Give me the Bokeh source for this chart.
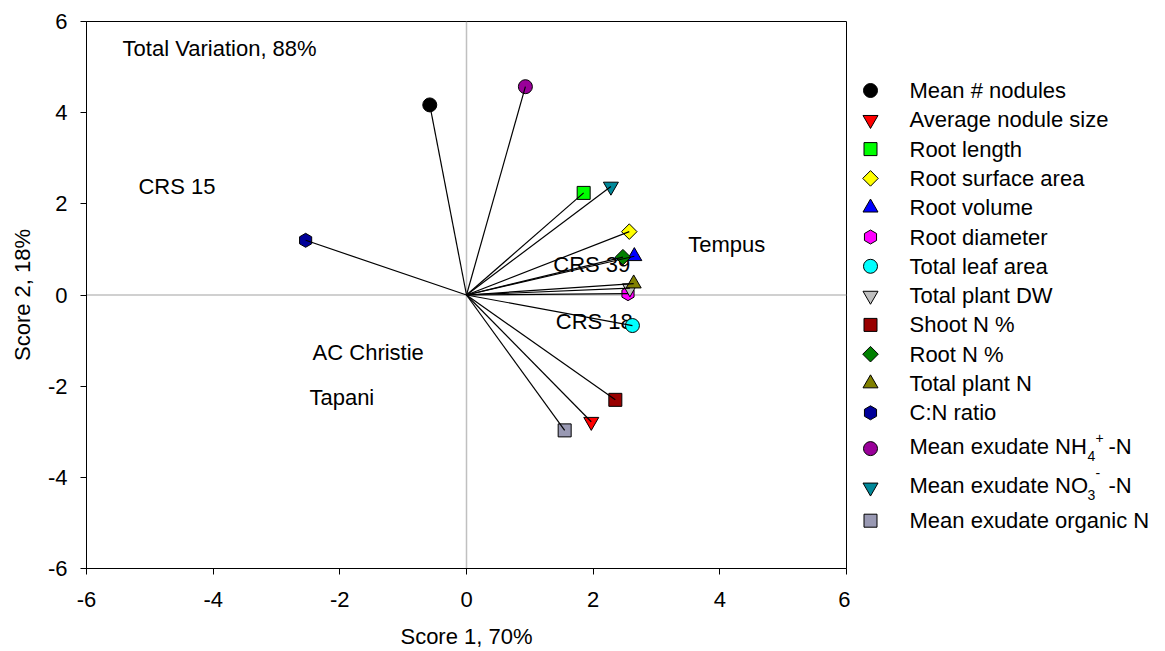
import math
from bokeh.plotting import figure
from bokeh.layouts import row
from bokeh.models import Range1d, FixedTicker, Span, ColumnDataSource
from bokeh.core.properties import value
from bokeh.embed import file_html
from bokeh.resources import INLINE

FONT = "Liberation Sans"

# ---- data ----
variables = ["Mean # nodules", "Average nodule size", "Root length", "Root surface area",
             "Root volume", "Root diameter", "Total leaf area", "Total plant DW",
             "Shoot N %", "Root N %", "Total plant N", "C:N ratio",
             "Mean exudate NH4+ -N", "Mean exudate NO3- -N", "Mean exudate organic N"]
score1 = [-0.58, 1.97, 1.85, 2.57, 2.65, 2.55, 2.62, 2.58, 2.35, 2.47, 2.64, -2.54, 0.93, 2.28, 1.55]
score2 = [4.17, -2.78, 2.24, 1.39, 0.85, 0.03, -0.67, 0.15, -2.30, 0.83, 0.25, 1.20, 4.57, 2.38, -2.97]
markers = ["circle", "inverted_triangle", "square", "square", "triangle", "hex", "circle",
           "inverted_triangle", "square", "square", "triangle", "hex", "circle",
           "inverted_triangle", "square"]
colors = ["#000000", "#ff0000", "#00ff00", "#ffff00", "#0000ff", "#ff00ff", "#00ffff",
          "#c0c0c0", "#990000", "#008000", "#808000", "#000099", "#990099",
          "#008899", "#9999b3"]
is_diamond = [False, False, False, True, False, False, False, False, False, True,
              False, False, False, False, False]

cultivars = ["Total Variation, 88%", "CRS 15", "Tempus", "CRS 39", "CRS 18", "AC Christie", "Tapani"]
cult_x = [-5.43, -5.18, 3.50, 1.37, 1.41, -2.43, -2.48]
cult_y = [5.40, 2.38, 1.10, 0.66, -0.59, -1.26, -2.25]

ticks = [-6, -4, -2, 0, 2, 4, 6]
tick_labels = ["-6", "-4", "-2", "0", "2", "4", "6"]

# marker styling derived from type
def msize(m, d):
    if d:
        return 11
    return {"circle": 14, "square": 13, "triangle": 15, "inverted_triangle": 15, "hex": 14}[m]

def mangle(m, d):
    if d:
        return math.pi / 4
    if m == "hex":
        return math.pi / 6
    return 0.0

sizes = [msize(m, d) for m, d in zip(markers, is_diamond)]
angles = [mangle(m, d) for m, d in zip(markers, is_diamond)]

src = ColumnDataSource(dict(x=score1, y=score2, marker=markers, color=colors,
                            size=sizes, angle=angles,
                            x0=[0] * len(score1), y0=[0] * len(score1)))

p = figure(width=850, height=651, x_range=Range1d(-6, 6), y_range=Range1d(-6, 6),
           output_backend="svg", toolbar_location=None,
           min_border_left=86, min_border_right=4, min_border_top=21, min_border_bottom=83)
p.xgrid.visible = False
p.ygrid.visible = False
p.outline_line_color = "black"
p.outline_line_width = 1
p.outline_line_alpha = 1
p.background_fill_color = "white"
p.border_fill_color = "white"

for ax in (p.xaxis[0], p.yaxis[0]):
    ax.ticker = FixedTicker(ticks=ticks)
    ax.major_label_overrides = {t: s for t, s in zip(ticks, tick_labels)}
    ax.major_tick_out = 6
    ax.major_tick_in = 0
    ax.minor_tick_out = 0
    ax.minor_tick_in = 0
    ax.axis_line_color = "black"
    ax.major_tick_line_color = "black"
    ax.major_label_text_font = FONT
    ax.major_label_text_font_size = "22px"
    ax.major_label_text_color = "black"
    ax.axis_label_text_font = FONT
    ax.axis_label_text_font_size = "22px"
    ax.axis_label_text_font_style = "normal"
    ax.axis_label_text_color = "black"

p.xaxis[0].axis_label = "Score 1, 70%"
p.yaxis[0].axis_label = "Score 2, 18%"
p.xaxis[0].major_label_standoff = 17
p.yaxis[0].major_label_standoff = 13
p.xaxis[0].axis_label_standoff = 14
p.yaxis[0].axis_label_standoff = 10

p.add_layout(Span(location=0, dimension="height", line_color="#c0c0c0", line_width=1.5, level="underlay"))
p.add_layout(Span(location=0, dimension="width", line_color="#c0c0c0", line_width=1.5, level="underlay"))

p.text(x=cult_x, y=cult_y, text=cultivars, text_font=value(FONT), text_font_size=value("22px"),
       text_align="left", text_baseline="middle", text_color="black")

p.scatter(x="x", y="y", marker="marker", size="size", angle="angle", fill_color="color",
          line_color="black", line_width=1, source=src)
p.segment(x0="x0", y0="y0", x1="x", y1="y", line_color="black", line_width=1.2, source=src)

# ---- legend as its own panel (frame aligned with main plot frame: pixel rows 21..568) ----
lg = figure(width=315, height=651, x_range=Range1d(0, 315), y_range=Range1d(568, 21),
            output_backend="svg", toolbar_location=None,
            min_border_left=0, min_border_right=0, min_border_top=21, min_border_bottom=83)
lg.axis.visible = False
lg.xgrid.visible = False
lg.ygrid.visible = False
lg.outline_line_color = None
lg.background_fill_color = "white"
lg.border_fill_color = "white"

n = len(variables)
extra = [0] * 12 + [4.5, 14, 20]
row_y = [90 + 29.3 * i + extra[i] for i in range(n)]
mark_x = 20
text_x = 59

legend_text = []
for v in variables:
    if v.startswith("Mean exudate NH4"):
        legend_text.append("Mean exudate NH")
    elif v.startswith("Mean exudate NO3"):
        legend_text.append("Mean exudate NO")
    else:
        legend_text.append(v)

lsrc = ColumnDataSource(dict(x=[mark_x] * n, y=[yy + (2 if i in (12, 13) else 0) for i, yy in enumerate(row_y)],
                             marker=markers, color=colors, size=sizes, angle=[-a for a in angles]))
lg.scatter(x="x", y="y", marker="marker", size="size", angle="angle", fill_color="color",
           line_color="black", line_width=1, source=lsrc)
lg.text(x=[text_x] * n, y=row_y, text=legend_text, text_font=value(FONT),
        text_font_size=value("22px"), text_align="left", text_baseline="middle", text_color="black")

# sub/superscripts for the two ion rows
sub_x, sup_x, tail_x = 237, 245, 258
lg.text(x=[sub_x, sub_x], y=[row_y[12] + 9, row_y[13] + 10], text=["4", "3"], text_font=value(FONT),
        text_font_size=value("14px"), text_align="left", text_baseline="middle", text_color="black")
lg.text(x=[sup_x, sup_x], y=[row_y[12] - 9, row_y[13] - 12], text=["+", "-"], text_font=value(FONT),
        text_font_size=value("14px"), text_align="left", text_baseline="middle", text_color="black")
lg.text(x=[tail_x, tail_x], y=[row_y[12], row_y[13]], text=["-N", "-N"], text_font=value(FONT),
        text_font_size=value("22px"), text_align="left", text_baseline="middle", text_color="black")

layout = row(p, lg)
open("out.html", "w").write(file_html(layout, INLINE))
